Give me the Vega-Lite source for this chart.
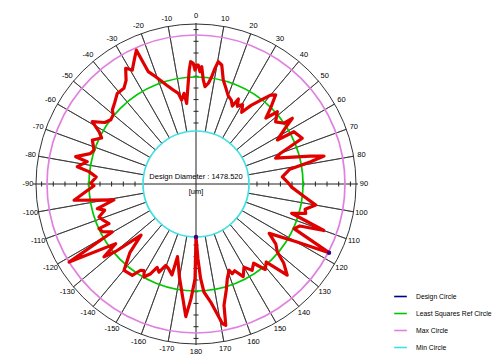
{
 "$schema": "https://vega.github.io/schema/vega-lite/v6.json",
 "width": 336, "height": 336,
 "autosize": {"type": "none"},
 "padding": {"left": 28, "top": 16, "right": 136, "bottom": 11},
 "background": "white",
 "config": {"view": {"stroke": null}, "font": "Liberation Sans"},
 "datasets": {
  "profile": [
   {"a":-180,"r":53},{"a":-179.4,"r":95},{"a":-177.5,"r":115},{"a":-175.6,"r":133},{"a":-173,"r":112},{"a":-170,"r":95},{"a":-167.5,"r":82},{"a":-165.7,"r":75},{"a":-165.2,"r":94},{"a":-162,"r":89},{"a":-159.6,"r":86.8},{"a":-157.2,"r":95.5},{"a":-155,"r":92},{"a":-153.2,"r":100.5},{"a":-150.8,"r":106.5},{"a":-149,"r":101},{"a":-147.3,"r":102.5},{"a":-145.1,"r":111.3},{"a":-140.2,"r":112.4},{"a":-136,"r":95},{"a":-132.9,"r":75},{"a":-130,"r":105},{"a":-128.4,"r":117.4},{"a":-126.6,"r":100},{"a":-121.6,"r":149},{"a":-119.8,"r":96.5},{"a":-117,"r":105},{"a":-114.7,"r":106.8},{"a":-114.5,"r":95.6},{"a":-111,"r":100},{"a":-108.8,"r":102.5},{"a":-106,"r":95},{"a":-104,"r":101.7},{"a":-101,"r":83.6},{"a":-97.6,"r":123},{"a":-94,"r":110.6},{"a":-91,"r":102},{"a":-89.6,"r":105.3},{"a":-86,"r":100},{"a":-83.4,"r":107.7},{"a":-81.7,"r":120},{"a":-78.4,"r":111},{"a":-77.2,"r":123.4},{"a":-74,"r":110},{"a":-71.6,"r":107.5},{"a":-67,"r":112.6},{"a":-64,"r":105},{"a":-61.7,"r":110},{"a":-59,"r":121},{"a":-56,"r":110},{"a":-53,"r":106.7},{"a":-50,"r":108},{"a":-48.5,"r":111.7},{"a":-45,"r":115},{"a":-41,"r":120},{"a":-37,"r":119.8},{"a":-34,"r":125},{"a":-31.3,"r":135.4},{"a":-29.2,"r":130.6},{"a":-26,"r":140},{"a":-24,"r":146.5},{"a":-23,"r":122},{"a":-21.4,"r":117},{"a":-19.1,"r":110},{"a":-16.5,"r":103},{"a":-13.6,"r":96.7},{"a":-11,"r":92.4},{"a":-9.7,"r":85.2},{"a":-7.5,"r":91.5},{"a":-6.6,"r":81.2},{"a":-5,"r":95},{"a":-3.4,"r":114.2},{"a":-2.5,"r":122.4},{"a":-1.3,"r":120.7},{"a":-0.5,"r":114},{"a":0.3,"r":119},{"a":1.1,"r":119},{"a":2,"r":112.4},{"a":2.8,"r":117.4},{"a":4,"r":104.3},{"a":5.3,"r":97.7},{"a":7,"r":101.5},{"a":8.3,"r":108.4},{"a":9.3,"r":117.2},{"a":10.3,"r":124.3},{"a":12.2,"r":121.8},{"a":14.7,"r":107.5},{"a":17.5,"r":100},{"a":20,"r":94},{"a":22.8,"r":91},{"a":25,"r":86},{"a":26.5,"r":95},{"a":28,"r":88},{"a":30.4,"r":92},{"a":32.5,"r":85},{"a":35,"r":96},{"a":38.4,"r":109},{"a":40,"r":116},{"a":41.8,"r":119.5},{"a":44.6,"r":106},{"a":46.7,"r":96},{"a":48.4,"r":108.8},{"a":52,"r":101},{"a":55.4,"r":107},{"a":55.7,"r":116.6},{"a":58,"r":105},{"a":61.6,"r":92.5},{"a":61.9,"r":111},{"a":66.7,"r":115.7},{"a":70,"r":90},{"a":72,"r":83.7},{"a":76.3,"r":118},{"a":77.7,"r":131},{"a":79,"r":116.8},{"a":81,"r":95},{"a":85.2,"r":86.6},{"a":88.6,"r":91.3},{"a":92,"r":96},{"a":96,"r":107},{"a":100,"r":121.6},{"a":103,"r":112},{"a":105,"r":113.6},{"a":107,"r":100},{"a":110,"r":136},{"a":112,"r":112},{"a":114.5,"r":107.7},{"a":117.3,"r":149.7},{"a":120,"r":115},{"a":124,"r":88.3},{"a":127,"r":100},{"a":129.9,"r":106},{"a":132,"r":118},{"a":135,"r":129},{"a":138,"r":105},{"a":141,"r":110},{"a":144,"r":98},{"a":147,"r":103},{"a":150,"r":96},{"a":153,"r":104},{"a":156,"r":95},{"a":158,"r":96.7},{"a":159,"r":92.4},{"a":161.7,"r":99.7},{"a":164,"r":110},{"a":167,"r":124.5},{"a":168.1,"r":144.4},{"a":169.3,"r":142},{"a":172.9,"r":119},{"a":175.8,"r":108.3},{"a":177.2,"r":94.8},{"a":178.5,"r":75},{"a":180,"r":53}
  ],
  "spokes": [{"a":-170},{"a":-160},{"a":-150},{"a":-140},{"a":-130},{"a":-120},{"a":-110},{"a":-100},{"a":-80},{"a":-70},{"a":-60},{"a":-50},{"a":-40},{"a":-30},{"a":-20},{"a":-10},{"a":10},{"a":20},{"a":30},{"a":40},{"a":50},{"a":60},{"a":70},{"a":80},{"a":100},{"a":110},{"a":120},{"a":130},{"a":140},{"a":150},{"a":160},{"a":170}],
  "labels": [{"a":-170},{"a":-160},{"a":-150},{"a":-140},{"a":-130},{"a":-120},{"a":-110},{"a":-100},{"a":-90},{"a":-80},{"a":-70},{"a":-60},{"a":-50},{"a":-40},{"a":-30},{"a":-20},{"a":-10},{"a":0},{"a":10},{"a":20},{"a":30},{"a":40},{"a":50},{"a":60},{"a":70},{"a":80},{"a":90},{"a":100},{"a":110},{"a":120},{"a":130},{"a":140},{"a":150},{"a":160},{"a":170},{"a":180}],
  "ticks": [{"r":61},{"r":72.7},{"r":84.4},{"r":96},{"r":107.7},{"r":119.4},{"r":131},{"r":142.7},{"r":154.4},{"r":-61},{"r":-72.7},{"r":-84.4},{"r":-96},{"r":-107.7},{"r":-119.4},{"r":-131},{"r":-142.7},{"r":-154.4}],
  "circles": [{"name":"Max Circle","r":149},{"name":"Least Squares Ref Circle","r":107},{"name":"Min Circle","r":53}],
  "extremes": [{"a":180,"r":53},{"a":117.3,"r":149.7}]
 },
 "layer": [
  {
   "data": {"values": [{"r": 160}]},
   "mark": {"type": "arc", "theta": 0, "theta2": 6.2832, "filled": false, "stroke": "#333333", "strokeWidth": 1},
   "encoding": {"radius": {"field": "r", "type": "quantitative", "stack": null, "scale": {"type": "linear", "domain": [0, 168], "range": [0, 168], "zero": true}}}
  },
  {
   "data": {"name": "spokes"},
   "mark": {"type": "arc", "filled": false, "stroke": "#333333", "strokeWidth": 0.8},
   "encoding": {
    "theta": {"field": "a", "type": "quantitative", "stack": null, "scale": {"type": "linear", "domain": [-180, 180], "range": [-3.14159265, 3.14159265]}},
    "theta2": {"field": "a"},
    "radius": {"datum": 53, "type": "quantitative", "stack": null},
    "radius2": {"datum": 160}
   }
  },
  {
   "data": {"values": [{}]},
   "mark": {"type": "rule", "color": "#222222", "strokeWidth": 1},
   "encoding": {
    "x": {"datum": -163, "type": "quantitative", "scale": {"domain": [-168, 168], "nice": false}, "axis": null},
    "x2": {"datum": 162},
    "y": {"datum": 0, "type": "quantitative", "scale": {"domain": [-168, 168], "nice": false}, "axis": null}
   }
  },
  {
   "data": {"values": [{}]},
   "mark": {"type": "rule", "color": "#222222", "strokeWidth": 1},
   "encoding": {
    "x": {"datum": 0, "type": "quantitative"},
    "y": {"datum": -161, "type": "quantitative"},
    "y2": {"datum": 161}
   }
  },
  {
   "data": {"name": "ticks"},
   "mark": {"type": "tick", "orient": "vertical", "size": 5, "thickness": 1, "color": "#222222", "opacity": 1},
   "encoding": {
    "x": {"field": "r", "type": "quantitative"},
    "y": {"datum": 0, "type": "quantitative"}
   }
  },
  {
   "data": {"name": "ticks"},
   "mark": {"type": "tick", "orient": "horizontal", "size": 5, "thickness": 1, "color": "#222222", "opacity": 1},
   "encoding": {
    "y": {"field": "r", "type": "quantitative"},
    "x": {"datum": 0, "type": "quantitative"}
   }
  },
  {
   "data": {"name": "circles"},
   "mark": {"type": "arc", "theta": 0, "theta2": 6.2832, "filled": false, "strokeWidth": 1.7},
   "encoding": {
    "radius": {"field": "r", "type": "quantitative", "stack": null},
    "color": {
     "field": "name", "type": "nominal",
     "scale": {"domain": ["Design Circle", "Least Squares Ref Circle", "Max Circle", "Min Circle"], "range": ["#000080", "#00c800", "#e080e0", "#40e0e0"]},
     "legend": {"title": null, "orient": "none", "legendX": 365, "legendY": 273, "symbolType": "stroke", "symbolSize": 160, "symbolStrokeWidth": 1.6, "labelFontSize": 6.8, "labelFont": "Liberation Sans", "labelColor": "#000000", "rowPadding": 5, "labelOffset": 8}
    }
   }
  },
  {
   "data": {"name": "profile"},
   "transform": [
    {"calculate": "datum.r * sin(datum.a * PI / 180)", "as": "px"},
    {"calculate": "datum.r * cos(datum.a * PI / 180)", "as": "py"}
   ],
   "mark": {"type": "line", "color": "#e00000", "strokeWidth": 3.2, "strokeJoin": "round"},
   "encoding": {
    "x": {"field": "px", "type": "quantitative"},
    "y": {"field": "py", "type": "quantitative"},
    "order": {"value": null}
   }
  },
  {
   "data": {"name": "extremes"},
   "transform": [
    {"calculate": "datum.r * sin(datum.a * PI / 180)", "as": "px"},
    {"calculate": "datum.r * cos(datum.a * PI / 180)", "as": "py"}
   ],
   "mark": {"type": "point", "filled": true, "color": "#400080", "size": 20, "opacity": 1},
   "encoding": {
    "x": {"field": "px", "type": "quantitative"},
    "y": {"field": "py", "type": "quantitative"}
   }
  },
  {
   "data": {"name": "labels"},
   "mark": {"type": "text", "fontSize": 7.5, "font": "Liberation Sans", "color": "#000000", "align": "center", "baseline": "middle"},
   "encoding": {
    "theta": {"field": "a", "type": "quantitative", "stack": null},
    "radius": {"datum": 168, "type": "quantitative", "stack": null},
    "text": {"field": "a", "type": "nominal"}
   }
  },
  {
   "data": {"values": [{"t": "Design Diameter : 1478.520"}]},
   "mark": {"type": "text", "fontSize": 7.5, "font": "Liberation Sans", "color": "#000000", "align": "center", "baseline": "middle"},
   "encoding": {"x": {"datum": 0, "type": "quantitative"}, "y": {"datum": 7, "type": "quantitative"}, "text": {"field": "t"}}
  },
  {
   "data": {"values": [{"t": "[um]"}]},
   "mark": {"type": "text", "fontSize": 7.5, "font": "Liberation Sans", "color": "#000000", "align": "center", "baseline": "middle"},
   "encoding": {"x": {"datum": 0, "type": "quantitative"}, "y": {"datum": -8, "type": "quantitative"}, "text": {"field": "t"}}
  }
 ]
}
